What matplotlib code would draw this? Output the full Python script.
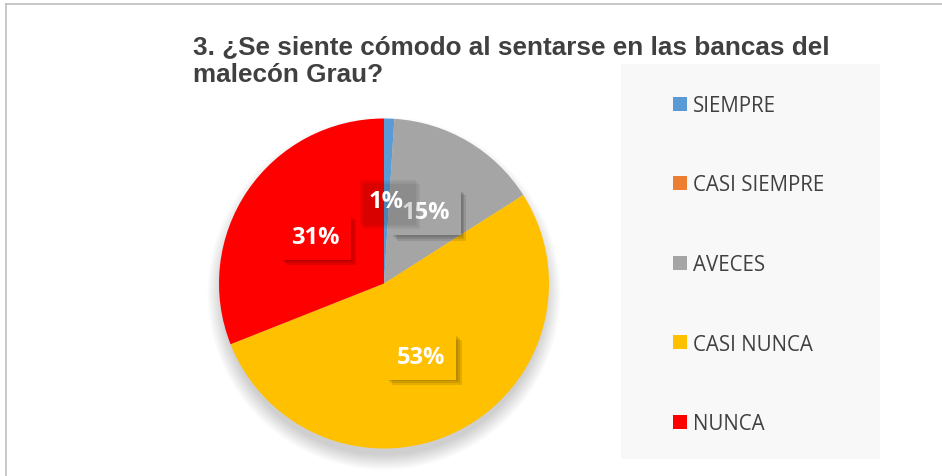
import matplotlib
matplotlib.use("Agg")
import matplotlib.pyplot as plt
from matplotlib.patches import Rectangle, Circle
from matplotlib.lines import Line2D
import matplotlib.patheffects as pe

# data
categories = ["SIEMPRE", "CASI SIEMPRE", "AVECES", "CASI NUNCA", "NUNCA"]
values = [1, 0, 15, 53, 31]
colors = ["#5B9BD5", "#ED7D31", "#A5A5A5", "#FFC000", "#FF0000"]
title = "3. ¿Se siente cómodo al sentarse en las bancas del\nmalecón Grau?"

W, H = 942, 477
fig = plt.figure(figsize=(W / 100, H / 100), dpi=100)

# chart frame (only left and top edges show)
fig.add_artist(Line2D([5.5 / W, 5.5 / W], [0, 1 - 4.5 / H], transform=fig.transFigure,
                      color="#BFBFBF", lw=1.2))
fig.add_artist(Line2D([5.5 / W, 1], [1 - 4.5 / H, 1 - 4.5 / H], transform=fig.transFigure,
                      color="#BFBFBF", lw=1.2))

# legend background
fig.add_artist(Rectangle((621 / W, 1 - 460 / H), 259 / W, 395 / H, transform=fig.transFigure,
                         facecolor="#F8F8F8", edgecolor="none", zorder=0))

# pie axes: center (384, 284.5) px, radius 165 px
cx, cy, r = 384, 284.5, 165
half = 200
ax = fig.add_axes([(cx - half) / W, 1 - (cy + half) / H, 2 * half / W, 2 * half / H])
lim = half / r
ax.axis("off")

# soft shadow under the pie
for i in range(16):
    ax.add_patch(Circle((0, -0.06), 0.98 + i * 0.006, facecolor="black", edgecolor="none",
                        alpha=0.012, zorder=0))


def pct_label(p):
    return "%d%%" % round(p) if p >= 0.5 else ""


wedges, texts, autotexts = ax.pie(values, colors=colors, startangle=90, counterclock=False,
                                  autopct=pct_label, pctdistance=0.5, radius=1,
                                  wedgeprops=dict(linewidth=0, zorder=1),
                                  textprops=dict(color="white", fontsize=17, fontweight="bold",
                                                 family="Open Sans"))
ax.set_xlim(-lim, lim)
ax.set_ylim(-lim, lim)

for t, c, v in zip(autotexts, colors, values):
    if v == 0:
        continue
    small = v < 5
    fc = "none" if small else c
    a = 0.05 if small else 0.1
    t.set_bbox(dict(boxstyle="square,pad=0.45", facecolor=fc, edgecolor="none"))
    t.get_bbox_patch().set_path_effects([
        pe.SimplePatchShadow(offset=(4, -4), shadow_rgbFace="black", alpha=a),
        pe.SimplePatchShadow(offset=(2.5, -2.5), shadow_rgbFace="black", alpha=a),
        pe.SimplePatchShadow(offset=(1.2, -1.2), shadow_rgbFace="black", alpha=a),
        pe.Normal()])
    t.set_zorder(4 if small else 3)

# title
fig.text(193 / W, 1 - 82 / H, title, ha="left", va="baseline", fontsize=18.8,
         fontweight="bold", family="Liberation Sans", color="#404040", linespacing=1.2)

# legend
fig.legend(wedges, categories, loc="center left", bbox_to_anchor=(673 / W, 1 - 265.5 / H),
           frameon=False, borderpad=0, borderaxespad=0, handlelength=0.68, handleheight=0.68,
           handletextpad=0.3, labelspacing=2.85,
           prop=dict(family="Open Sans", size=14.8), labelcolor="#404040")

fig.savefig("out.png", dpi=100)
